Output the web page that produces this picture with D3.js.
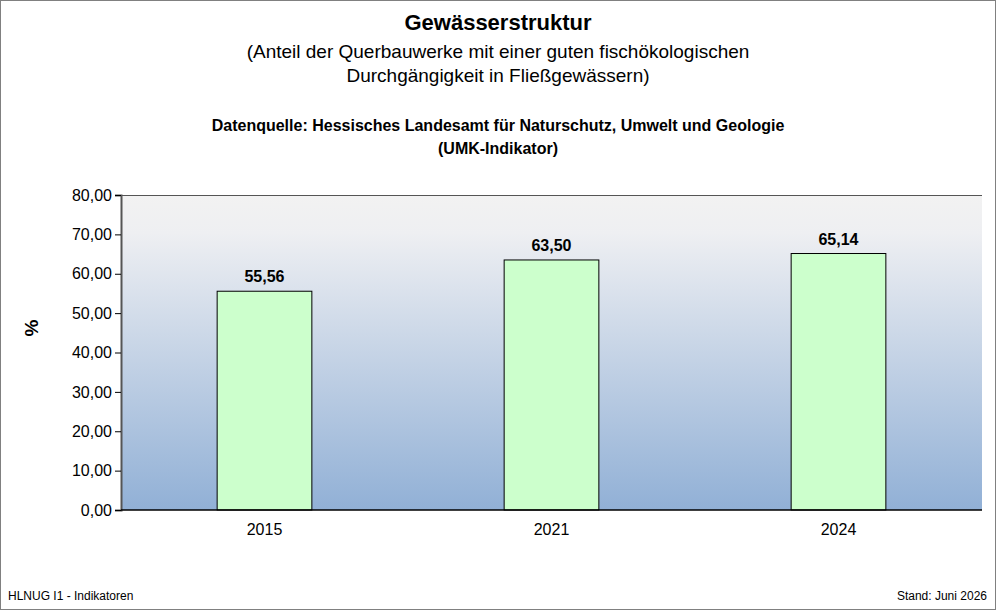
<!DOCTYPE html>
<html><head><meta charset="utf-8">
<script src="https://cdn.jsdelivr.net/npm/d3@7"></script>
<style>body{margin:0}svg{display:block;font-family:"Liberation Sans",Arial,sans-serif}</style>
</head><body><svg id="c" width="996" height="610"></svg>
<script>
const categories=["2015","2021","2024"];
const values=[55.56,63.50,65.14];
const yTicks=[0,10,20,30,40,50,60,70,80];
const svg=d3.select("#c");
svg.append("rect").attr("x",0.5).attr("y",0.5).attr("width",995).attr("height",609).attr("fill","#fff").attr("stroke","#808080");
const L=121,R=982,T=195,B=510;
const defs=svg.append("defs");
const g=defs.append("linearGradient").attr("id","bg").attr("x1",0).attr("y1",0).attr("x2",0).attr("y2",1);
g.append("stop").attr("offset","0").attr("stop-color","#f2f2f2");
g.append("stop").attr("offset","0.12").attr("stop-color","#eeeff2");
g.append("stop").attr("offset","1").attr("stop-color","#91b0d6");
const x=d3.scaleBand().domain(categories).range([L,R]).paddingInner(0.67).paddingOuter(0.335);
const y=d3.scaleLinear().domain([0,80]).range([B,T]);
svg.append("rect").attr("x",L).attr("y",T).attr("width",R-L).attr("height",B-T).attr("fill","url(#bg)");
svg.append("line").attr("x1",L).attr("x2",R).attr("y1",T+0.5).attr("y2",T+0.5).attr("stroke","#555");
svg.selectAll(".bar").data(values).join("rect").attr("x",(d,i)=>x(categories[i])).attr("y",d=>y(d))
 .attr("width",x.bandwidth()).attr("height",d=>B-y(d)).attr("fill","#ccffcc").attr("stroke","#000").attr("stroke-width",1);
svg.selectAll(".lbl").data(values).join("text").attr("x",(d,i)=>x(categories[i])+x.bandwidth()/2).attr("y",d=>y(d)-9)
 .attr("text-anchor","middle").attr("font-size",16).attr("font-weight","bold").text(d=>d3.format(".2f")(d).replace(".",","));
const ya=svg.append("g").attr("transform",`translate(${L},0)`).call(d3.axisLeft(y).tickValues(yTicks).tickSize(6).tickFormat(d=>d3.format(".2f")(d).replace(".",",")));
ya.select(".domain").attr("stroke","#555").attr("stroke-width",2);
ya.selectAll("text").attr("font-size",16).attr("fill","#000").attr("font-family","Liberation Sans, Arial");
const xa=svg.append("g").attr("transform",`translate(0,${B})`).call(d3.axisBottom(x).tickSize(0).tickPadding(14));
xa.select(".domain").remove();
svg.append("line").attr("x1",L).attr("x2",R).attr("y1",B).attr("y2",B).attr("stroke","#000").attr("stroke-width",1.5);
xa.selectAll("text").attr("font-size",16).attr("fill","#000").attr("font-family","Liberation Sans, Arial");
const t=(x0,y0,s,txt,w,a)=>svg.append("text").attr("x",x0).attr("y",y0).attr("font-size",s).attr("font-weight",w||"normal").attr("text-anchor",a||"middle").text(txt);
t(498,30,22,"Gewässerstruktur","bold");
t(498,58,19,"(Anteil der Querbauwerke mit einer guten fischökologischen");
t(498,82,19,"Durchgängigkeit in Fließgewässern)");
t(498,131,16,"Datenquelle: Hessisches Landesamt für Naturschutz, Umwelt und Geologie","bold");
t(498,154,16,"(UMK-Indikator)","bold");
svg.append("text").attr("transform","translate(38,328) rotate(-90)").attr("text-anchor","middle").attr("font-size",19).attr("font-weight","bold").text("%");
t(8,600,12,"HLNUG I1  - Indikatoren","normal","start");
t(987,600,12,"Stand: Juni 2026","normal","end");
</script></body></html>
